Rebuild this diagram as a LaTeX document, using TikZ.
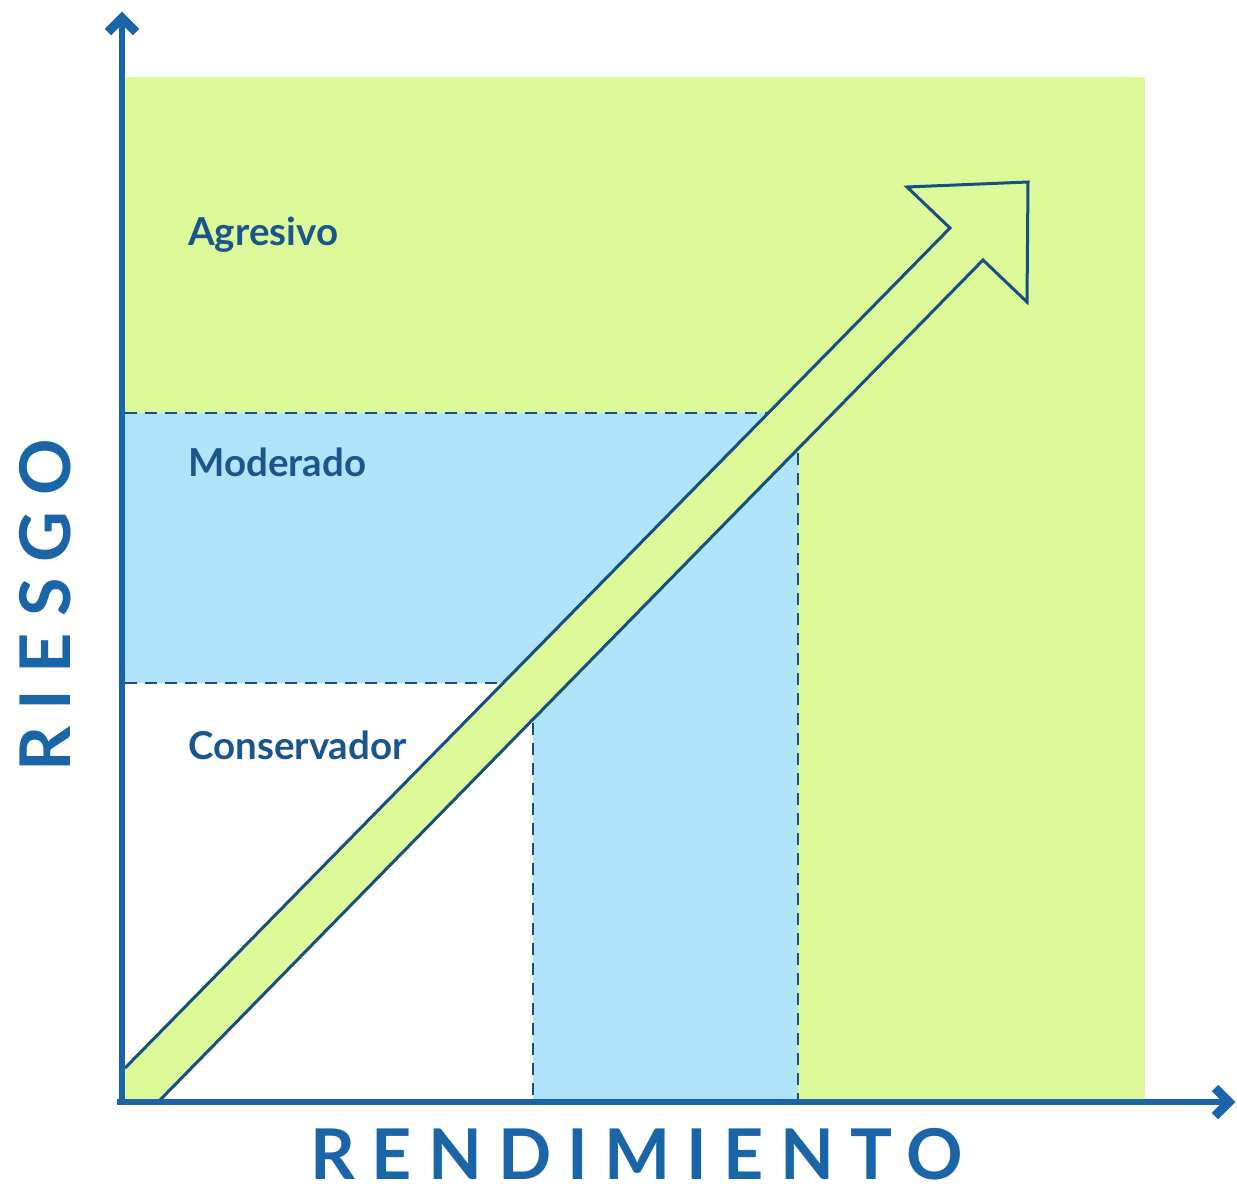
\documentclass[tikz,border=0pt]{standalone}
\usepackage{fontspec}
\setmainfont{Lato}
\newfontfamily\axisfont[LetterSpace=23]{Lato}
\usetikzlibrary{arrows.meta,calc}
\definecolor{greenfill}{RGB}{221,249,154}
\definecolor{bluefill}{RGB}{176,228,250}
\definecolor{axisblue}{RGB}{26,100,168}
\definecolor{textblue}{RGB}{26,86,140}
\definecolor{lineblue}{RGB}{22,80,130}
\tikzset{
  axis/.style={draw=axisblue, line width=6pt},
  axistip/.style={draw=axisblue, line width=9pt, line cap=butt, line join=miter, miter limit=10},
  zonelabel/.style={text=textblue, anchor=base west, inner sep=0pt, font=\bfseries\fontsize{38.5}{42}\selectfont},
  axislabel/.style={text=axisblue, inner sep=0pt, font=\axisfont\bfseries\fontsize{70}{76}\selectfont},
  divider/.style={draw=lineblue, line width=2pt, dash pattern=on 12pt off 8pt},
  bigarrow/.style={draw=lineblue, line width=3pt, line join=miter},
}
\begin{document}
\begin{tikzpicture}[x=1pt,y=-1pt]
\useasboundingbox (0,0) rectangle (1237,1192);
\fill[white] (0,0) rectangle (1237,1192);
% zones
\fill[greenfill] (125,77) rectangle (1145,1100);
\fill[bluefill] (125,413) rectangle (798,1100);
\fill[white] (125,683) rectangle (533,1100);
% dividers
\coordinate (h1a) at (125,413); \coordinate (h1b) at (800,413);
\coordinate (h2a) at (125,683); \coordinate (h2b) at (533,683);
\coordinate (v1a) at (533,683); \coordinate (v1b) at (533,1100);
\coordinate (v2a) at (798,413); \coordinate (v2b) at (798,1100);
\draw[divider] (h1a) -- (h1b);
\draw[divider] (h2a) -- (h2b);
\draw[divider] (v1a) -- (v1b);
\draw[divider] (v2a) -- (v2b);
% big arrow
\coordinate (s1) at (125,1068);
\coordinate (n1) at (950,228);
\coordinate (b1) at (907,187);
\coordinate (tip) at (1028,182);
\coordinate (b2) at (1027,302);
\coordinate (n2) at (983,260);
\coordinate (s2) at (160,1100);
\fill[greenfill] (s1) -- (n1) -- (b1) -- (tip) -- (b2) -- (n2) -- (s2) -- (125,1100) -- cycle;
\draw[bigarrow] (s1) -- (n1) -- (b1) -- (tip) -- (b2) -- (n2) -- (s2);
% axes
\coordinate (o1) at (122,1105);
\coordinate (ytop) at (122,18);
\coordinate (o2) at (117,1102);
\coordinate (xend) at (1229,1102);
\draw[axis] (o1) -- (ytop);
\draw[axis] (o2) -- (xend);
\draw[axistip] ($(ytop)+(-14,14)$) -- (ytop) -- ($(ytop)+(14,14)$);
\draw[axistip] ($(xend)+(-14,-14)$) -- (xend) -- ($(xend)+(-14,14)$);
% labels
\node[zonelabel] (agr) at (188,245) {Agresivo};
\node[zonelabel] (mod) at (188,476) {Moderado};
\node[zonelabel] (con) at (188,759) {Conservador};
\node[axislabel, rotate=90] (riesgo) at (45,605) {RIESGO};
\node[axislabel] (rend) at (637,1154) {RENDIMIENTO};
\end{tikzpicture}
\end{document}
